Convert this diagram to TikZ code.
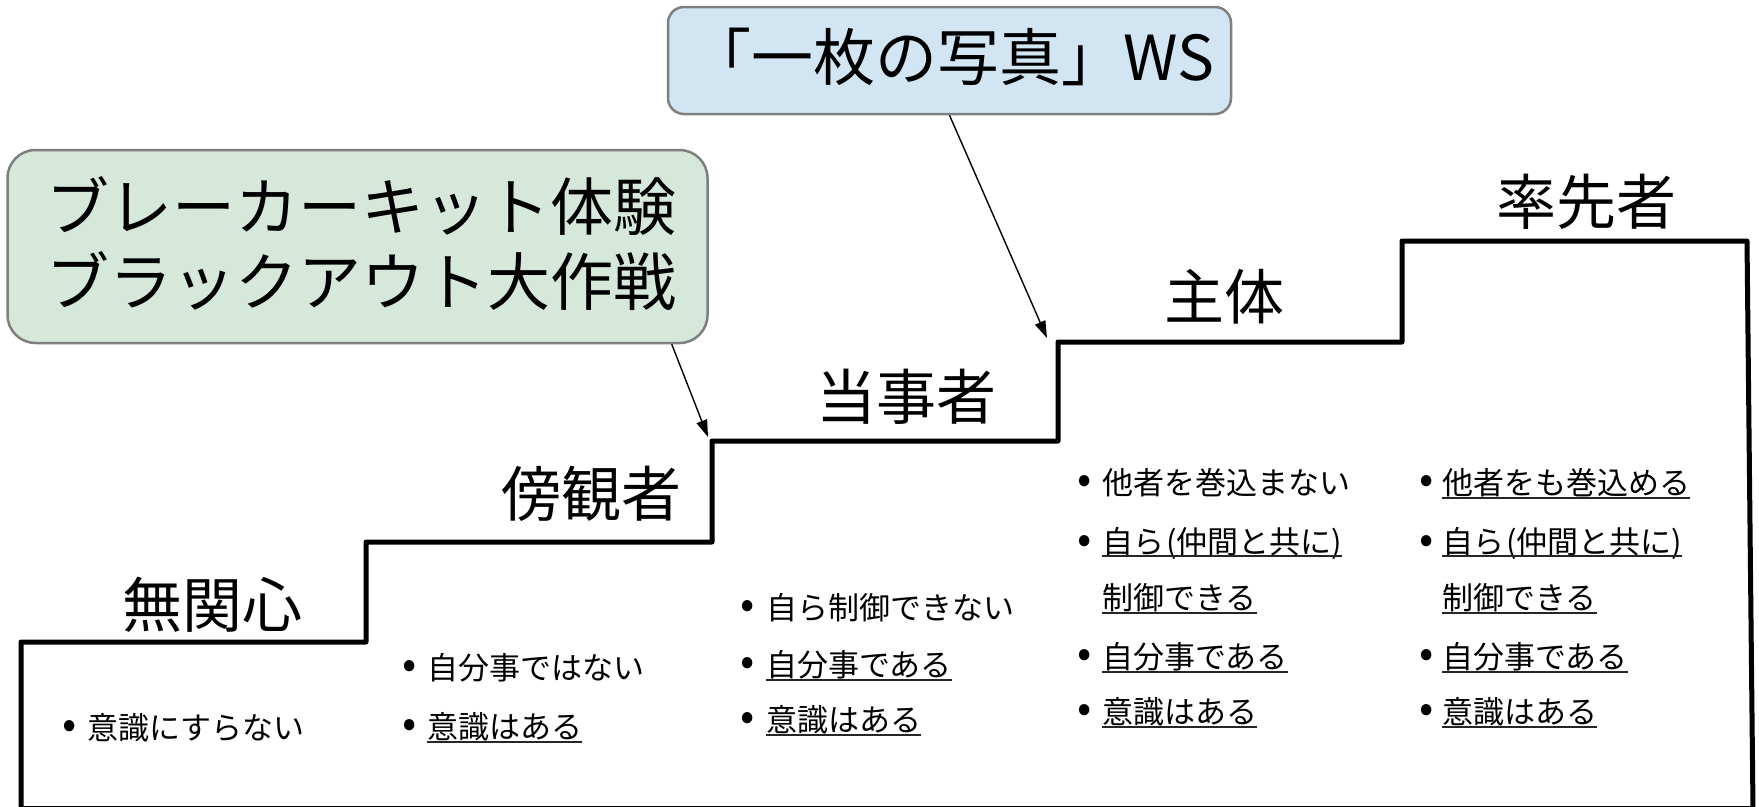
\documentclass[tikz,border=0pt]{standalone}
\usepackage{fontspec}
\newfontfamily\jp{Noto Sans CJK JP}
\usetikzlibrary{arrows.meta,calc}
\definecolor{gfill}{HTML}{D5E8DA}
\definecolor{bfill}{HTML}{D2E5F3}
\definecolor{bord}{HTML}{7F7F7F}
\begin{document}
\begin{tikzpicture}[x=1pt,y=-1pt,font=\jp,
  stair/.style={line width=5pt,line join=round,black},
  gbox/.style={draw=bord,line width=2.5pt,fill=gfill,rounded corners=28pt,inner sep=0pt},
  bbox/.style={draw=bord,line width=2.5pt,fill=bfill,rounded corners=16pt,inner sep=0pt},
  lvl/.style={inner sep=0pt,font=\jp\fontsize{60}{72}\selectfont},
  item/.style={inner sep=0pt,anchor=west,font=\jp\fontsize{31}{37}\selectfont},
  bul/.style={inner sep=0pt,font=\jp\fontsize{42}{48}\selectfont},
  ul/.style={line width=2pt,draw=black!85},
  arr/.style={line width=1.4pt,-{Triangle[length=17pt,width=11pt]}}]
\useasboundingbox (0,0) rectangle (1759,806);
% staircase
\draw[stair] (21,810) -- (21,642) -- (366,642) -- (366,542) -- (712,542) -- (712,441)
  -- (1058,441) -- (1058,342) -- (1402,342) -- (1402,241) -- (1747,241) -- (1753,810);
\draw[stair] (21,808) -- (1753,808);
\coordinate (c3) at (708,437);
\coordinate (c4) at (1047,338);
% boxes
\node[gbox,minimum width=700pt,minimum height=193pt] (g) at (357.5,246.5) {};
\node[inner sep=0pt,align=center,font=\jp\fontsize{63}{75}\selectfont] (gt) at (361,244) {ブレーカーキット体験\\ブラックアウト大作戦};
\node[bbox,minimum width=563pt,minimum height=107pt] (b) at (949.5,60.5) {};
\node[inner sep=0pt,font=\jp\fontsize{62}{74}\selectfont] (bt) at (952,57) {「一枚の写真」WS};
\draw[arr] ([xshift=-37pt]g.south east) -- (c3);
\draw[arr] (b.south) -- (c4);
% level labels
\node[lvl] (l1) at (212,605) {無関心};
\node[lvl] (l2) at (591,494) {傍観者};
\node[lvl] (l3) at (906,397) {当事者};
\node[lvl] (l4) at (1224,297) {主体};
\node[lvl] (l5) at (1586,202) {率先者};
% column 1
\node[bul] (b11) at (70,729) {•};
\node[item] (t11) at (87,728) {意識にすらない};
% column 2
\node[bul] (b21) at (410,669) {•};
\node[item] (t21) at (427,668) {自分事ではない};
\node[bul] (b22) at (410,728) {•};
\node[item] (t22) at (427,727) {意識はある};
\draw[ul] ([yshift=-3pt]t22.base west) -- ([yshift=-3pt]t22.base east);
% column 3
\node[bul] (b31) at (748,609) {•};
\node[item] (t31) at (766,608) {自ら制御できない};
\node[bul] (b32) at (748,666) {•};
\node[item] (t32) at (766,665) {自分事である};
\draw[ul] ([yshift=-3pt]t32.base west) -- ([yshift=-3pt]t32.base east);
\node[bul] (b33) at (748,721) {•};
\node[item] (t33) at (766,720) {意識はある};
\draw[ul] ([yshift=-3pt]t33.base west) -- ([yshift=-3pt]t33.base east);
% column 4
\node[bul] (b41) at (1085,484) {•};
\node[item] (t41) at (1102,483) {他者を巻込まない};
\node[bul] (b42) at (1085,544) {•};
\node[item] (t42) at (1102,543) {自ら\kern2pt(仲間と共に)};
\draw[ul] ([yshift=-3pt]t42.base west) -- ([yshift=-3pt]t42.base east);
\node[item] (t43) at (1102,598) {制御できる};
\draw[ul] ([yshift=-3pt]t43.base west) -- ([yshift=-3pt]t43.base east);
\node[bul] (b44) at (1085,658) {•};
\node[item] (t44) at (1102,657) {自分事である};
\draw[ul] ([yshift=-3pt]t44.base west) -- ([yshift=-3pt]t44.base east);
\node[bul] (b45) at (1085,713) {•};
\node[item] (t45) at (1102,712) {意識はある};
\draw[ul] ([yshift=-3pt]t45.base west) -- ([yshift=-3pt]t45.base east);
% column 5
\node[bul] (b51) at (1427,484) {•};
\node[item] (t51) at (1442,483) {他者をも巻込める};
\draw[ul] ([yshift=-3pt]t51.base west) -- ([yshift=-3pt]t51.base east);
\node[bul] (b52) at (1427,544) {•};
\node[item] (t52) at (1442,543) {自ら\kern2pt(仲間と共に)};
\draw[ul] ([yshift=-3pt]t52.base west) -- ([yshift=-3pt]t52.base east);
\node[item] (t53) at (1442,598) {制御できる};
\draw[ul] ([yshift=-3pt]t53.base west) -- ([yshift=-3pt]t53.base east);
\node[bul] (b54) at (1427,658) {•};
\node[item] (t54) at (1442,657) {自分事である};
\draw[ul] ([yshift=-3pt]t54.base west) -- ([yshift=-3pt]t54.base east);
\node[bul] (b55) at (1427,713) {•};
\node[item] (t55) at (1442,712) {意識はある};
\draw[ul] ([yshift=-3pt]t55.base west) -- ([yshift=-3pt]t55.base east);
\end{tikzpicture}
\end{document}
